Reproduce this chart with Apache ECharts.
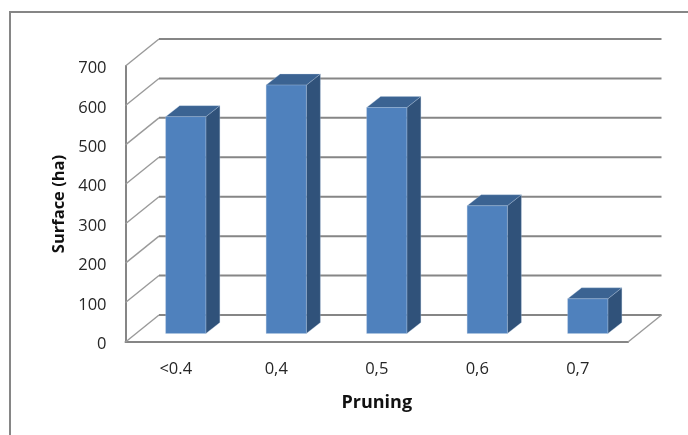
<!DOCTYPE html>
<html>
<head>
<meta charset="utf-8">
<style>html,body{margin:0;padding:0;background:#fff}#c{width:688px;height:435px}</style>
<script src="https://cdn.jsdelivr.net/npm/echarts@6/dist/echarts.min.js"></script>
</head>
<body>
<div id="c"></div>
<script>
// Pruning classes and the surface in hectares for each one
const categories = ['<0.4', '0,4', '0,5', '0,6', '0,7'];
const surface = [550, 630, 573, 324, 88];
const valueTicks = [0, 100, 200, 300, 400, 500, 600, 700];

// Pseudo-3D projection: how far the back wall and the bars sit behind the axis plane
const wallDepth = [33.5, -27];
const barInset = [10, -8.5];
const barDepth = [14, -11];
const barWidthShare = 0.4;

const gridColor = '#868686';
const faceColors = { front: '#4f81bd', top: '#3b6392', side: '#30527a', edge: '#b4c8e0' };

const chart = echarts.init(document.getElementById('c'), null, { renderer: 'canvas' });

function shift(p, d) { return [p[0] + d[0], p[1] + d[1]]; }

// One floor-to-wall line per tick: oblique along the side wall, then flat across the back wall
function renderWallLine(params, api) {
  const base = api.coord([0, api.value(0)]);
  const left = params.coordSys.x;
  const right = left + params.coordSys.width;
  const front = [left, base[1]];
  const back = shift(front, wallDepth);
  const backRight = [right + wallDepth[0], back[1]];
  const children = [{
    type: 'polyline',
    shape: { points: [front, back] },
    style: { fill: null, stroke: '#9a9a9a', lineWidth: 1.4 }
  }, {
    type: 'polyline',
    shape: { points: [back, backRight] },
    style: { fill: null, stroke: gridColor, lineWidth: 2 }
  }];
  if (api.value(0) === 0) {
    children.push({
      type: 'polyline',
      shape: { points: [[right, base[1]], backRight] },
      style: { fill: null, stroke: '#9a9a9a', lineWidth: 1.4 }
    });
  }
  return { type: 'group', children };
}

// A bar as three faces: front, top and the shaded right side
function renderBar(params, api) {
  const i = api.value(0);
  const w = api.size([1, 0])[0] * barWidthShare;
  const topC = shift(api.coord([i, api.value(1)]), barInset);
  const baseC = shift(api.coord([i, 0]), barInset);
  const x0 = topC[0] - w / 2;
  const x1 = topC[0] + w / 2;
  const tl = [x0, topC[1]], tr = [x1, topC[1]];
  const bl = [x0, baseC[1]], br = [x1, baseC[1]];
  const poly = (pts, fill) => ({
    type: 'polygon',
    shape: { points: pts },
    style: { fill, stroke: faceColors.edge, lineWidth: 0.5, strokeOpacity: 0.6 }
  });
  return {
    type: 'group',
    children: [
      poly([tr, br, shift(br, barDepth), shift(tr, barDepth)], faceColors.side),
      poly([tl, tr, shift(tr, barDepth), shift(tl, barDepth)], faceColors.top),
      poly([tl, tr, br, bl], faceColors.front)
    ]
  };
}

chart.setOption({
  animation: false,
  backgroundColor: '#fff',
  textStyle: { fontFamily: '"Open Sans", "Noto Sans", sans-serif' },
  grid: { left: 125.5, top: 66, width: 502.5, height: 276, containLabel: false },
  xAxis: {
    type: 'category',
    data: categories,
    name: 'Pruning',
    nameLocation: 'middle',
    nameGap: 52,
    nameTextStyle: { fontSize: 18, fontWeight: 'bold', color: '#111' },
    axisTick: { show: false },
    axisLine: { lineStyle: { color: gridColor, width: 2 } },
    axisLabel: { fontSize: 16.5, color: '#262626', margin: 19 },
    splitLine: { show: false }
  },
  yAxis: {
    type: 'value',
    min: 0,
    max: 700,
    interval: 100,
    name: 'Surface (ha)',
    nameLocation: 'middle',
    nameGap: 56,
    nameTextStyle: { fontSize: 16.5, fontWeight: 'bold', color: '#111' },
    axisTick: { show: false },
    axisLine: { show: true, lineStyle: { color: gridColor, width: 2 } },
    axisLabel: { fontSize: 16.5, color: '#262626', margin: 19, verticalAlign: 'top', lineHeight: 5 },
    splitLine: { show: false }
  },
  series: [
    {
      type: 'custom',
      clip: false,
      z: 1,
      renderItem: renderWallLine,
      encode: { y: 0 },
      data: valueTicks.map(v => [v]),
      silent: true
    },
    {
      type: 'custom',
      clip: false,
      z: 3,
      renderItem: renderBar,
      encode: { x: 0, y: 1 },
      data: surface.map((v, i) => [i, v])
    }
  ],
  graphic: [{
    type: 'polyline',
    silent: true,
    shape: { points: [[10, 435], [10, 12], [688, 12]] },
    style: { fill: null, stroke: '#868686', lineWidth: 2 }
  }]
});
</script>
</body>
</html>
